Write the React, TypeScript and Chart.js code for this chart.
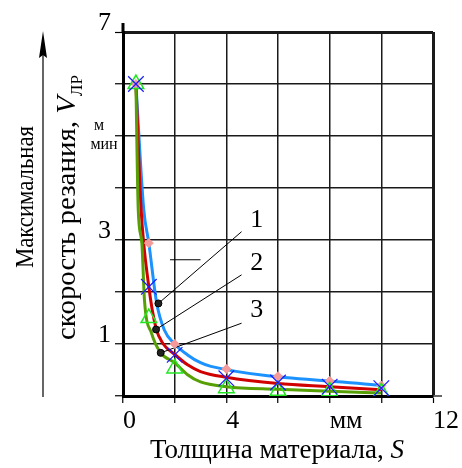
import { useEffect, useRef } from "react";
import { Chart, registerables } from "chart.js";

Chart.register(...registerables);

const FONT = "'Liberation Serif', 'DejaVu Serif', serif";

// Axis ticks
const xTickLabels: Record<number, string> = { 0: "0", 4: "4", 8: "мм", 12: "12" };
const yTickLabels: Record<number, string> = { 1: "1", 3: "3", 7: "7" };

// Curve 1 (blue)
const curve1X = [0.5, 0.8, 1, 1.3, 1.6, 2, 2.5, 3, 3.4, 10];
const curve1Y = [6, 3.6, 2.94, 1.8, 1.27, 1.0, 0.79, 0.64, 0.57, 0.2];
// Curve 2 (red)
const curve2X = [0.5, 0.7, 1, 1.28, 1.56, 2, 2.5, 3, 4, 6, 8, 10];
const curve2Y = [6, 3.6, 2.1, 1.3, 1.0, 0.8, 0.6, 0.47, 0.36, 0.24, 0.18, 0.12];
// Curve 3 (green)
const curve3X = [0.5, 0.59, 0.73, 0.83, 1.11, 1.46, 2, 2.5, 3, 4, 6, 8, 10];
const curve3Y = [6, 3.58, 2.94, 1.85, 1.2, 0.83, 0.64, 0.41, 0.27, 0.18, 0.13, 0.09, 0.06];

// Markers
const markX = [0.5, 1, 2, 4, 6, 8, 10];
const mark1Y = [6, 2.94, 1.0, 0.52, 0.38, 0.29, 0.2];
const mark2Y = [6, 2.1, 0.79, 0.34, 0.26, 0.18, 0.15];
const mark3Y = [6, 1.5, 0.53, 0.15, 0.1, 0.09, 0.07];

// Leader lines to curve numbers
const leaderStartX = [1.37, 1.28, 1.46];
const leaderStartY = [1.78, 1.28, 0.83];
const leaderEndX = [4.59, 4.59, 4.59];
const leaderEndY = [3.16, 2.33, 1.4];
const curveLabels = ["1", "2", "3"];
const curveLabelX = [5.18, 5.18, 5.18];
const curveLabelY = [3.38, 2.55, 1.65];

// Short stray segment
const strayX = [1.82, 3.0];
const strayY = [2.62, 2.62];

const pts = (xs: number[], ys: number[]) => xs.map((x, i) => ({ x, y: ys[i] }));

const decorPlugin = {
  id: "decor",
  afterDraw(chart: any) {
    const { ctx, chartArea, scales } = chart;
    const xs = scales.x;
    const ys = scales.y;
    ctx.save();
    ctx.strokeStyle = "#000";
    ctx.fillStyle = "#000";
    // border extensions
    ctx.lineWidth = 3;
    ctx.beginPath();
    ctx.moveTo(chartArea.left, chartArea.top);
    ctx.lineTo(chartArea.left, chartArea.top - 9);
    ctx.stroke();
    ctx.lineWidth = 1.2;
    ctx.beginPath();
    ctx.moveTo(chartArea.right, chartArea.bottom);
    ctx.lineTo(chartArea.right + 9, chartArea.bottom);
    ctx.stroke();

    // curve numbers
    ctx.font = `26px ${FONT}`;
    ctx.textAlign = "center";
    ctx.textBaseline = "middle";
    curveLabels.forEach((t, i) => {
      ctx.fillText(t, xs.getPixelForValue(curveLabelX[i]), ys.getPixelForValue(curveLabelY[i]));
    });

    // unit м/мин
    ctx.font = `16px ${FONT}`;
    ctx.textBaseline = "alphabetic";
    ctx.fillText("м", 99, 130);
    ctx.fillText("мин", 104, 149);

    // x title
    ctx.font = `27px ${FONT}`;
    const t1 = "Толщина материала, ";
    const w1 = ctx.measureText(t1).width;
    ctx.font = `italic 27px ${FONT}`;
    const w2 = ctx.measureText("S").width;
    const sx = 277 - (w1 + w2) / 2;
    ctx.textAlign = "left";
    ctx.font = `27px ${FONT}`;
    ctx.fillText(t1, sx, 458);
    ctx.font = `italic 27px ${FONT}`;
    ctx.fillText("S", sx + w1, 458);

    // arrow
    ctx.lineWidth = 1.2;
    ctx.beginPath();
    ctx.moveTo(43, 397);
    ctx.lineTo(43, 50);
    ctx.stroke();
    ctx.beginPath();
    ctx.moveTo(43, 31);
    ctx.lineTo(47, 58);
    ctx.lineTo(43, 55);
    ctx.lineTo(39, 58);
    ctx.closePath();
    ctx.fill();

    // y title line 1 (fits 127..267)
    ctx.save();
    ctx.translate(33, 197);
    ctx.rotate(-Math.PI / 2);
    ctx.font = `26px ${FONT}`;
    const l1 = "Максимальная";
    const wl1 = ctx.measureText(l1).width;
    ctx.scale(142 / wl1, 1);
    ctx.textAlign = "center";
    ctx.fillText(l1, 0, 0);
    ctx.restore();

    // y title line 2 (fits 75..340)
    ctx.save();
    ctx.translate(75, 207.5);
    ctx.rotate(-Math.PI / 2);
    const a = "скорость резания, ";
    ctx.font = `27px ${FONT}`;
    const wa = ctx.measureText(a).width;
    ctx.font = `italic 27px ${FONT}`;
    const wv = ctx.measureText("V").width;
    ctx.font = `16px ${FONT}`;
    const ws = ctx.measureText("ЛР").width;
    const total = wa + wv + ws;
    ctx.scale(265 / total, 1);
    let px = -total / 2;
    ctx.textAlign = "left";
    ctx.font = `27px ${FONT}`;
    ctx.fillText(a, px, 0);
    px += wa;
    ctx.font = `italic 27px ${FONT}`;
    ctx.fillText("V", px, 0);
    px += wv;
    ctx.font = `16px ${FONT}`;
    ctx.fillText("ЛР", px, 7);
    ctx.restore();

    ctx.restore();
  },
};

export default function App() {
  const ref = useRef<HTMLCanvasElement | null>(null);

  useEffect(() => {
    if (!ref.current) return;
    const lineBase = {
      showLine: true,
      pointRadius: 0,
      borderWidth: 3,
      cubicInterpolationMode: "monotone" as const,
      fill: false,
    };
    const leader = (i: number) => ({
      label: "leader" + i,
      data: [
        { x: leaderStartX[i], y: leaderStartY[i] },
        { x: leaderEndX[i], y: leaderEndY[i] },
      ],
      borderColor: "#000",
      borderWidth: 1,
      pointRadius: [3.5, 0],
      pointBackgroundColor: "#222",
      pointBorderColor: "#000",
      pointBorderWidth: 1,
      tension: 0,
      order: 1,
    });
    const chart = new Chart(ref.current, {
      type: "line",
      data: {
        datasets: [
          {
            label: "m2",
            data: pts(markX, mark2Y),
            showLine: false,
            pointStyle: "crossRot",
            pointRadius: 11,
            pointBorderColor: "#1a1aff",
            pointBorderWidth: 1.2,
            order: 0,
          },
          {
            label: "m3",
            data: pts(markX, mark3Y),
            showLine: false,
            pointStyle: "triangle",
            pointRadius: 9,
            pointBorderColor: "#22e622",
            pointBackgroundColor: "rgba(0,0,0,0)",
            pointBorderWidth: 1.5,
            order: 0,
          },
          {
            label: "m1",
            data: pts(markX, mark1Y),
            showLine: false,
            pointStyle: "rectRot",
            pointRadius: 4.5,
            pointBackgroundColor: "#f59a9a",
            pointBorderColor: "#f59a9a",
            pointBorderWidth: 1,
            order: 0,
          },
          leader(0),
          leader(1),
          leader(2),
          {
            label: "stray",
            data: pts(strayX, strayY),
            borderColor: "#000",
            borderWidth: 1,
            pointRadius: 0,
            order: 1,
          },
          { ...lineBase, label: "3", data: pts(curve3X, curve3Y), borderColor: "#56a005", order: 2 },
          { ...lineBase, label: "2", data: pts(curve2X, curve2Y), borderColor: "#d00000", order: 3 },
          { ...lineBase, label: "1", data: pts(curve1X, curve1Y), borderColor: "#1b92ff", order: 4 },
        ] as any,
      },
      options: {
        animation: false,
        responsive: false,
        events: [],
        layout: { padding: { top: 32, right: 29, left: 0, bottom: 0 } },
        plugins: {
          legend: { display: false },
          tooltip: { enabled: false },
          title: { display: false },
        },
        scales: {
          x: {
            type: "linear",
            min: 0,
            max: 12,
            afterFit: (s: any) => {
              s.height = 72;
            },
            ticks: {
              stepSize: 2,
              autoSkip: false,
              maxRotation: 0,
              align: "start",
              padding: 3,
              color: "#000",
              font: { family: FONT, size: 26 },
              callback: (v: any) => xTickLabels[Number(v)] ?? "",
            },
            grid: {
              color: "#1a1a1a",
              lineWidth: (c: any) => (c.tick && c.tick.value === 12 ? 3 : 1.5),
              tickLength: 7,
              tickColor: "#000",
              tickWidth: 1.2,
            },
            border: { display: true, color: "#000", width: 3 },
          },
          y: {
            type: "linear",
            min: 0,
            max: 7,
            afterFit: (s: any) => {
              s.width = 123;
            },
            ticks: {
              stepSize: 1,
              autoSkip: false,
              padding: 4,
              labelOffset: -9,
              color: "#000",
              font: { family: FONT, size: 26 },
              callback: (v: any) => yTickLabels[Number(v)] ?? "",
            },
            grid: {
              color: "#1a1a1a",
              lineWidth: (c: any) => (c.tick && c.tick.value === 7 ? 3 : 1.5),
              tickLength: 8,
              tickColor: "#000",
              tickWidth: 1.2,
            },
            border: { display: true, color: "#000", width: 3 },
          },
        },
      } as any,
      plugins: [decorPlugin],
    });
    return () => chart.destroy();
  }, []);

  return (
    <div style={{ position: "absolute", left: 0, top: 0, width: 462, height: 468, background: "#fff" }}>
      <canvas ref={ref} width={462} height={468} style={{ display: "block" }} />
    </div>
  );
}
